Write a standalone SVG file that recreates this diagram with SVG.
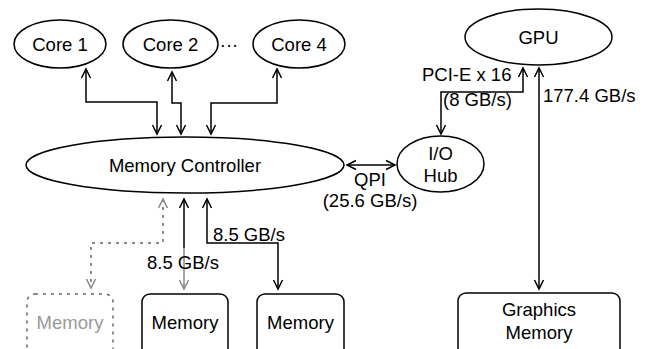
<svg xmlns="http://www.w3.org/2000/svg" width="652" height="349" viewBox="0 0 652 349">
<defs>
<style>
text{font-family:"Liberation Sans",Arial,Helvetica,sans-serif;font-size:18.5px;fill:#000}
.c{text-anchor:middle}
.n{fill:#fff;stroke:#000;stroke-width:1.5}
.e{fill:none;stroke:#000;stroke-width:1.5}
.g{fill:none;stroke:#666;stroke-width:1.5;stroke-dasharray:3 5}
.gt{fill:#999}
</style>
<marker id="a" markerWidth="12" markerHeight="12" refX="10" refY="6" orient="auto-start-reverse" markerUnits="userSpaceOnUse">
<path d="M1,1.5 L10,6 L1,10.5" fill="none" stroke="#000" stroke-width="1.5"/>
</marker>
<marker id="ag" markerWidth="12" markerHeight="12" refX="10" refY="6" orient="auto-start-reverse" markerUnits="userSpaceOnUse">
<path d="M1,1.5 L10,6 L1,10.5" fill="none" stroke="#888" stroke-width="1.5"/>
</marker>
</defs>
<g id="connectors">
<path class="e" d="M86,69 V102 H157 V134" marker-start="url(#a)" marker-end="url(#a)"/>
<path class="e" d="M172,72 V103 H181 V134" marker-start="url(#a)" marker-end="url(#a)"/>
<path class="e" d="M277,69 V103 H211 V134" marker-start="url(#a)" marker-end="url(#a)"/>
<path class="g" d="M163,199 V243 H91 V288" marker-start="url(#ag)" marker-end="url(#ag)"/>
<path class="e" d="M184,199 V248" marker-start="url(#a)"/>
<path fill="none" stroke="#888" stroke-width="1.5" d="M184,248 V289" marker-end="url(#ag)"/>
<path class="e" d="M207,199 V243 H278 V289" marker-start="url(#a)" marker-end="url(#a)"/>
<path class="e" d="M347,165 H395" marker-start="url(#a)" marker-end="url(#a)"/>
<path class="e" d="M523,68 V92 H441 V134" marker-start="url(#a)" marker-end="url(#a)"/>
<path class="e" d="M539,68 V289" marker-start="url(#a)" marker-end="url(#a)"/>
<text x="422" y="81">PCI-E x 16</text>
<text x="443" y="106">(8 GB/s)</text>
<text x="543" y="102">177.4 GB/s</text>
<text x="370" y="186" class="c">QPI</text>
<text x="370" y="207" class="c">(25.6 GB/s)</text>
<text x="213" y="241">8.5 GB/s</text>
<text x="147" y="269">8.5 GB/s</text>
</g>
<g id="core1"><ellipse class="n" cx="60" cy="44" rx="46" ry="24"/><text x="60" y="51" class="c">Core 1</text></g>
<g id="core2"><ellipse class="n" cx="170.5" cy="44" rx="47.5" ry="24"/><text x="170.5" y="51" class="c">Core 2</text></g>
<g id="dots"><text x="229" y="51" class="c">···</text></g>
<g id="core4"><ellipse class="n" cx="299" cy="44" rx="46" ry="24"/><text x="299" y="51" class="c">Core 4</text></g>
<g id="gpu"><ellipse class="n" cx="538.5" cy="37" rx="73.5" ry="28"/><text x="538.5" y="44" class="c">GPU</text></g>
<g id="mc"><ellipse class="n" cx="185" cy="165" rx="159" ry="28"/><text x="185" y="172" class="c">Memory Controller</text></g>
<g id="iohub"><ellipse class="n" cx="440.5" cy="164" rx="43.5" ry="28"/><text x="440.5" y="160" class="c">I/O</text><text x="440.5" y="182" class="c">Hub</text></g>
<g id="mem0"><rect x="27" y="294" width="86" height="70" rx="8" fill="#fff" stroke="#666" stroke-width="1.5" stroke-dasharray="3 5"/><text x="70" y="329" class="c gt">Memory</text></g>
<g id="mem1"><rect class="n" x="142" y="294" width="86" height="70" rx="8"/><text x="185" y="329" class="c">Memory</text></g>
<g id="mem2"><rect class="n" x="257" y="294" width="87" height="70" rx="8"/><text x="300.5" y="329" class="c">Memory</text></g>
<g id="gmem"><rect class="n" x="458" y="293" width="162" height="70" rx="8"/><text x="539" y="316" class="c">Graphics</text><text x="539" y="339" class="c">Memory</text></g>
</svg>
